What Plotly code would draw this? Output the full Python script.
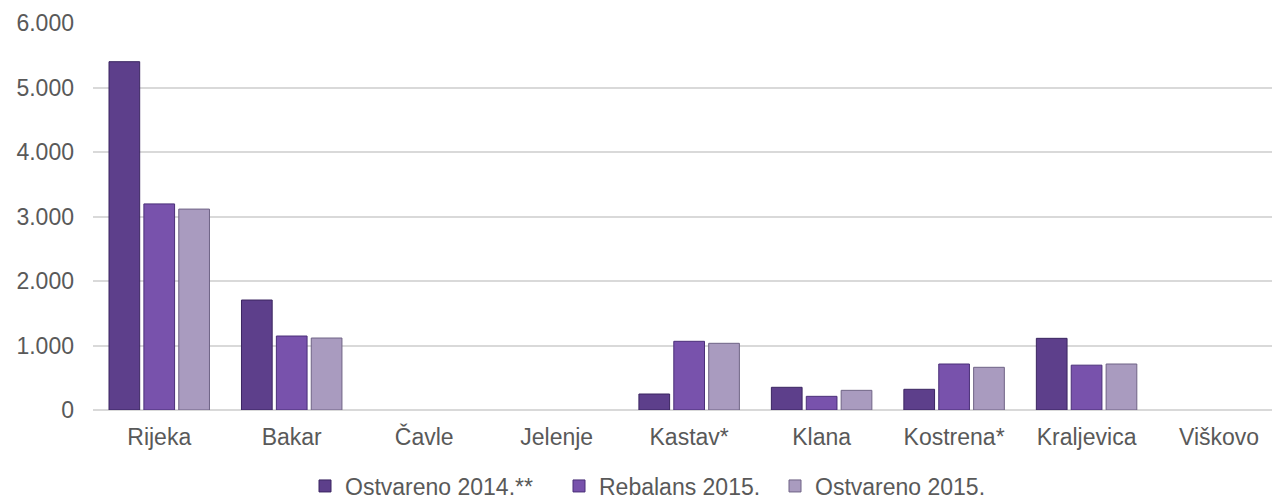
import plotly.graph_objects as go

categories = ["Rijeka", "Bakar", "Čavle", "Jelenje", "Kastav*", "Klana", "Kostrena*", "Kraljevica", "Viškovo"]
series_names = ["Ostvareno 2014.**", "Rebalans 2015.", "Ostvareno 2015."]
ostvareno_2014 = [5400, 1705, 0, 0, 248, 352, 321, 1111, 0]
rebalans_2015 = [3195, 1147, 0, 0, 1065, 212, 713, 695, 0]
ostvareno_2015 = [3115, 1116, 0, 0, 1034, 305, 662, 713, 0]
y_ticks = [0, 1000, 2000, 3000, 4000, 5000, 6000]

colors = ["#5d3f8b", "#7852ac", "#a99bbf"]
line_colors = ["#3a2560", "#4a2f78", "#6f6385"]
legend_ids = ["legend", "legend2", "legend3"]
legend_x_px = [297, 551, 767]

# page body has an 8px margin, so the figure is drawn 8px in from the window edge
W, H = 1272, 493
fig = go.Figure()
for name, vals, c, lc, lg in zip(series_names, [ostvareno_2014, rebalans_2015, ostvareno_2015],
                                 colors, line_colors, legend_ids):
    fig.add_trace(go.Bar(
        x=categories, y=vals, name=name, legend=lg,
        marker=dict(color=c, line=dict(color=lc, width=[1 if v else 0 for v in vals])),
    ))

font_family = "Liberation Sans, Arial, sans-serif"
fs = 23
legend_common = dict(orientation="h", xref="container", yref="container",
                     xanchor="left", yanchor="middle", y=15 / H,
                     font=dict(size=fs, color="#595959"), itemwidth=30,
                     bgcolor="rgba(0,0,0,0)")
fig.update_layout(
    width=W, height=H,
    margin=dict(l=85, r=0, t=15, b=91, autoexpand=False),
    paper_bgcolor="white", plot_bgcolor="white",
    barmode="group", bargap=0.21, bargroupgap=0.12,
    separators=",.",
    font=dict(family=font_family, size=fs, color="#595959"),
    xaxis=dict(range=[-0.5, 8.46], showgrid=False, showline=False, ticks="",
               automargin=False, ticklabelstandoff=11,
               tickfont=dict(size=fs, color="#595959")),
    yaxis=dict(range=[0, 6000], tickvals=y_ticks, tickformat=",d",
               showgrid=True, gridcolor="#d9d9d9", gridwidth=1.5,
               zeroline=True, zerolinecolor="#d9d9d9", zerolinewidth=1.5,
               ticks="", ticklabelstandoff=18, automargin=False,
               tickfont=dict(size=fs, color="#595959")),
    legend=dict(**legend_common, x=legend_x_px[0] / W),
    legend2=dict(**legend_common, x=legend_x_px[1] / W),
    legend3=dict(**legend_common, x=legend_x_px[2] / W),
    showlegend=True,
)
fig.write_html("out.html")
